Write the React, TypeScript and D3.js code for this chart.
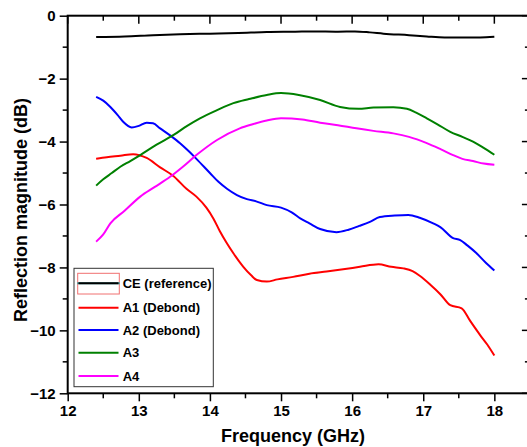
import React, { useRef, useEffect } from 'react';
import * as d3 from 'd3';

// [frequency GHz, reflection dB]
const ceRef = [
  [12.4, -0.68], [12.8, -0.66], [13.2, -0.62], [13.58, -0.59], [14.0, -0.57],
  [14.4, -0.55], [14.8, -0.52], [15.2, -0.51], [15.45, -0.5], [15.8, -0.51],
  [16.04, -0.5], [16.25, -0.53], [16.44, -0.57], [16.8, -0.62], [17.05, -0.66],
  [17.3, -0.69], [17.52, -0.69], [17.8, -0.69], [18.0, -0.67],
];
const a1 = [
  [12.4, -4.55], [12.55, -4.5], [12.74, -4.45], [12.92, -4.4], [13.11, -4.52],
  [13.3, -4.82], [13.49, -5.1], [13.67, -5.5], [13.81, -5.75], [13.95, -6.1],
  [14.05, -6.45], [14.14, -6.85], [14.23, -7.2], [14.33, -7.55], [14.47, -7.98],
  [14.58, -8.25], [14.66, -8.4], [14.8, -8.45], [14.95, -8.38], [15.17, -8.3],
  [15.4, -8.2], [15.64, -8.13], [15.9, -8.05], [16.11, -7.98], [16.37, -7.9],
  [16.55, -7.98], [16.72, -8.03], [16.85, -8.12], [16.96, -8.28], [17.1, -8.55],
  [17.24, -8.85], [17.38, -9.2], [17.54, -9.3], [17.66, -9.7], [17.8, -10.15],
  [17.9, -10.45], [18.0, -10.8],
];
const a2 = [
  [12.4, -2.58], [12.5, -2.7], [12.6, -2.9], [12.7, -3.15], [12.78, -3.37],
  [12.9, -3.55], [13.0, -3.5], [13.11, -3.4], [13.2, -3.42], [13.3, -3.58],
  [13.45, -3.82], [13.58, -4.05], [13.7, -4.3], [13.81, -4.55], [14.0, -5.0],
  [14.12, -5.28], [14.24, -5.5], [14.38, -5.7], [14.52, -5.83], [14.65, -5.9],
  [14.8, -6.02], [15.0, -6.1], [15.15, -6.25], [15.27, -6.44], [15.4, -6.6],
  [15.55, -6.78], [15.78, -6.88], [15.95, -6.8], [16.1, -6.68], [16.25, -6.55],
  [16.39, -6.4], [16.6, -6.35], [16.79, -6.33], [16.95, -6.42], [17.14, -6.6],
  [17.24, -6.72], [17.42, -7.07], [17.52, -7.13], [17.62, -7.3], [17.75, -7.55],
  [17.88, -7.85], [18.0, -8.1],
];
const a3 = [
  [12.4, -5.4], [12.5, -5.2], [12.62, -5.0], [12.74, -4.8], [12.88, -4.62],
  [13.02, -4.43], [13.25, -4.1], [13.49, -3.79], [13.68, -3.5], [13.86, -3.26],
  [14.1, -3.0], [14.33, -2.78], [14.55, -2.65], [14.8, -2.52], [15.0, -2.46],
  [15.25, -2.52], [15.55, -2.68], [15.83, -2.9], [16.09, -2.96], [16.3, -2.92],
  [16.58, -2.91], [16.77, -2.96], [16.9, -3.08], [17.05, -3.26], [17.2, -3.45],
  [17.38, -3.69], [17.55, -3.85], [17.7, -4.0], [17.85, -4.2], [18.0, -4.42],
];
const a4 = [
  [12.4, -7.18], [12.5, -6.95], [12.6, -6.6], [12.8, -6.2], [13.02, -5.75],
  [13.22, -5.45], [13.44, -5.12], [13.62, -4.8], [13.81, -4.43], [14.1, -3.95],
  [14.42, -3.58], [14.6, -3.45], [14.8, -3.33], [15.0, -3.26], [15.3, -3.3],
  [15.55, -3.4], [15.8, -3.48], [16.06, -3.58], [16.3, -3.66], [16.58, -3.74],
  [16.8, -3.85], [17.05, -4.05], [17.25, -4.25], [17.42, -4.43], [17.55, -4.55],
  [17.7, -4.62], [17.85, -4.7], [18.0, -4.74],
];

const seriesNames = ['CE (reference)', 'A1 (Debond)', 'A2 (Debond)', 'A3', 'A4'];
const seriesData = [ceRef, a1, a2, a3, a4];
const seriesColors = ['#000000', '#ff0000', '#0000ff', '#008000', '#ff00ff'];

const xTicks = [12, 13, 14, 15, 16, 17, 18];
const yTicks = [0, -2, -4, -6, -8, -10, -12];

const App = () => {
  const chartRef = useRef(null);

  useEffect(() => {
    const width = 527;
    const height = 447;
    const font = "'Liberation Sans', Arial, sans-serif";

    d3.select(chartRef.current).selectAll('*').remove();

    const svg = d3
      .select(chartRef.current)
      .append('svg')
      .attr('width', width)
      .attr('height', height)
      .style('position', 'absolute')
      .style('left', '0px')
      .style('top', '0px')
      .style('background', '#ffffff');

    const x = d3.scaleLinear().domain([12, 18.5]).range([67.7, 529.9]);
    const y = d3.scaleLinear().domain([-12, 0]).range([393.3, 15.7]);

    const axisColor = '#000000';

    // bottom axis with outward ticks
    const bottom = svg
      .append('g')
      .attr('transform', `translate(0, ${y(-12)})`)
      .call(d3.axisBottom(x).tickValues(xTicks).tickFormat(d3.format('d')).tickSize(8).tickPadding(4));
    bottom.select('.domain').remove();
    bottom
      .selectAll('text')
      .attr('font-family', font)
      .attr('font-weight', 'bold')
      .attr('font-size', '15px')
      .attr('fill', '#000');
    bottom.selectAll('.tick line').attr('stroke', axisColor).attr('stroke-width', 1.5);

    // left axis
    const left = svg
      .append('g')
      .attr('transform', `translate(${x(12)}, 0)`)
      .call(d3.axisLeft(y).tickValues(yTicks).tickFormat(d3.format('d')).tickSize(8).tickPadding(4));
    left.select('.domain').remove();
    left
      .selectAll('text')
      .attr('font-family', font)
      .attr('font-weight', 'bold')
      .attr('font-size', '15px')
      .attr('fill', '#000');
    left.selectAll('.tick line').attr('stroke', axisColor).attr('stroke-width', 1.5);

    // minor ticks on all four sides
    const xMinor = d3.range(12.5, 18.5, 1);
    const yMinor = d3.range(-11, 0, 2);
    const ticks = svg.append('g').attr('stroke', axisColor).attr('stroke-width', 1.5);
    xMinor.forEach((v) => {
      ticks.append('line').attr('x1', x(v)).attr('x2', x(v)).attr('y1', y(-12)).attr('y2', y(-12) + 5);
      ticks.append('line').attr('x1', x(v)).attr('x2', x(v)).attr('y1', y(0)).attr('y2', y(0) + 5);
    });
    xTicks.forEach((v) => {
      ticks.append('line').attr('x1', x(v)).attr('x2', x(v)).attr('y1', y(0)).attr('y2', y(0) + 8);
    });
    yMinor.forEach((v) => {
      ticks.append('line').attr('x1', x(12) - 5).attr('x2', x(12)).attr('y1', y(v)).attr('y2', y(v));
      ticks.append('line').attr('x1', x(18.5) - 5).attr('x2', x(18.5)).attr('y1', y(v)).attr('y2', y(v));
    });
    yTicks.forEach((v) => {
      ticks.append('line').attr('x1', x(18.5) - 8).attr('x2', x(18.5)).attr('y1', y(v)).attr('y2', y(v));
    });

    // frame
    svg
      .append('rect')
      .attr('x', x(12))
      .attr('y', y(0))
      .attr('width', x(18.5) - x(12))
      .attr('height', y(-12) - y(0))
      .attr('fill', 'none')
      .attr('stroke', axisColor)
      .attr('stroke-width', 2);

    // lines
    const line = d3
      .line()
      .curve(d3.curveMonotoneX)
      .x((d) => x(d[0]))
      .y((d) => y(d[1]));

    seriesData.forEach((s, i) => {
      svg
        .append('path')
        .datum(s)
        .attr('fill', 'none')
        .attr('stroke', seriesColors[i])
        .attr('stroke-width', 2)
        .attr('d', line);
    });

    // legend
    const legend = svg.append('g');
    legend
      .append('rect')
      .attr('x', 74)
      .attr('y', 268.3)
      .attr('width', 139.3)
      .attr('height', 118.4)
      .attr('fill', '#ffffff')
      .attr('stroke', '#333333')
      .attr('stroke-width', 1);
    legend
      .append('rect')
      .attr('x', 77.7)
      .attr('y', 273.3)
      .attr('width', 41.6)
      .attr('height', 20.7)
      .attr('fill', 'none')
      .attr('stroke', '#f07070')
      .attr('stroke-width', 1);
    const rowY = [283.3, 307.7, 330, 352.7, 376];
    seriesNames.forEach((name, i) => {
      if (i === 0) {
        legend
          .append('line')
          .attr('x1', 77.2)
          .attr('x2', 119.8)
          .attr('y1', rowY[i])
          .attr('y2', rowY[i])
          .attr('stroke', '#40a0a0')
          .attr('stroke-width', 2);
      }
      legend
        .append('line')
        .attr('x1', 78.5)
        .attr('x2', 118.5)
        .attr('y1', rowY[i])
        .attr('y2', rowY[i])
        .attr('stroke', seriesColors[i])
        .attr('stroke-width', 2);
      legend
        .append('text')
        .attr('x', 122.7)
        .attr('y', rowY[i])
        .attr('dy', '0.36em')
        .attr('font-family', font)
        .attr('font-weight', 'bold')
        .attr('font-size', '13px')
        .attr('fill', '#000')
        .text(name);
    });

    // axis titles
    svg
      .append('text')
      .attr('x', 293)
      .attr('y', 442)
      .attr('text-anchor', 'middle')
      .attr('font-family', font)
      .attr('font-weight', 'bold')
      .attr('font-size', '18px')
      .text('Frequency (GHz)');
    svg
      .append('text')
      .attr('transform', 'translate(27, 210) rotate(-90)')
      .attr('text-anchor', 'middle')
      .attr('font-family', font)
      .attr('font-weight', 'bold')
      .attr('font-size', '18px')
      .text('Reflection magnitude (dB)');
  }, []);

  return <div ref={chartRef}></div>;
};

export default App;
